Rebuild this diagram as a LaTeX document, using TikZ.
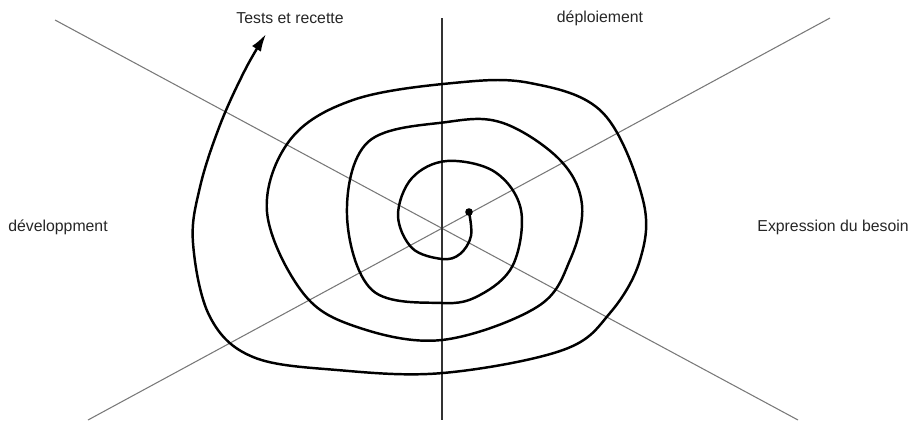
\documentclass[tikz,border=0pt]{standalone}
\usepackage{fontspec}
\setmainfont{Liberation Sans}
\usetikzlibrary{arrows.meta,calc}
\definecolor{axisGray}{RGB}{120,120,120}

\begin{document}
\begin{tikzpicture}[x=0.02cm, y=-0.02cm, every node/.style={font=\fontsize{9}{11}\selectfont, text=black!85}]
  \useasboundingbox (0,0) rectangle (910,423);
  % Axes
  \coordinate (c) at (442,228);
  \coordinate (tl) at (55,20);
  \coordinate (br) at (798,420);
  \coordinate (tr) at (830,18);
  \coordinate (bl) at (88,420);
  \coordinate (top) at (442,18);
  \coordinate (bot) at (442,420);
  \draw[axisGray, line width=0.6pt] (tl) -- (br);
  \draw[axisGray, line width=0.6pt] (tr) -- (bl);
  \draw[black!80, line width=0.6pt] (top) -- (bot);
  % Phase labels
  \node (tests) at (290,18) {Tests et recette};
  \node (deploy) at (600,18) {déploiement};
  \node[anchor=west, inner sep=0pt] (dev) at (8,227) {développment};
  \node[anchor=east, inner sep=0pt] (expr) at (909,227) {Expression du besoin};
  % Spiral
  \fill (469,212) circle (3.8);
  \draw[line width=1.4pt, -{Latex[length=10pt, width=6pt]}] plot[smooth, tension=0.6] coordinates {
    (469,212) (471,236) (460,254) (442,259) (412,248) (398,215) (412,178)
    (447,161) (495,172) (521,210) (513,265) (480,295) (442,303) (372,290)
    (347,215) (368,142) (447,122) (503,123) (560,160) (582,205)
    (570,260) (537,307) (442,340) (357,327) (303,293) (267,212)
    (290,140) (353,100) (453,83) (530,83) (603,113) (643,200) (640,260)
    (610,313) (563,350) (443,373) (337,370) (253,357) (210,317)
    (193,243) (200,187) (220,125) (245,70) (266,34)};
\end{tikzpicture}
\end{document}
